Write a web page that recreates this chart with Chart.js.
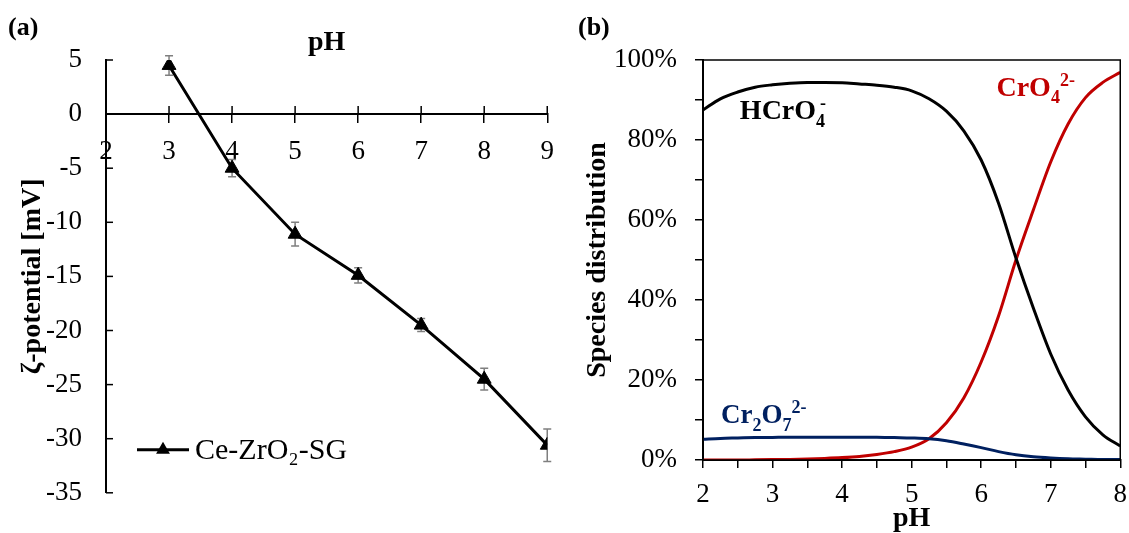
<!DOCTYPE html>
<html><head><meta charset="utf-8">
<script src="https://cdn.jsdelivr.net/npm/chart.js@4/dist/chart.umd.min.js"></script>
<style>
html,body{margin:0;padding:0;background:#fff;}
#wrap{position:relative;width:1129px;height:533px;overflow:hidden;}
#ca{position:absolute;left:0;top:0;}
#cb{position:absolute;left:565px;top:0;}
</style></head><body>
<div id="wrap">
<canvas id="ca" width="568" height="533"></canvas>
<canvas id="cb" width="573" height="533"></canvas>
</div>
<script>
// ---------- data: panel (a) ----------
const zetaPH  = [3, 4, 5, 6, 7, 8, 9];
const zetaMV  = [4.5, -5.0, -11.1, -14.9, -19.5, -24.5, -30.6];
const zetaErr = [0.9, 0.8, 1.1, 0.7, 0.6, 1.0, 1.5];
const zetaLabel = 'Ce-ZrO\u2082-SG';

// ---------- data: panel (b) ----------
const specPH = [2, 2.25, 2.5, 2.75, 3, 3.25, 3.5, 3.75, 4, 4.25, 4.5, 4.75, 5, 5.25, 5.5, 5.75, 6, 6.25, 6.5, 6.75, 7, 7.25, 7.5, 7.75, 8];
const hcro4  = [87.5, 90.3, 92.0, 93.2, 93.8, 94.2, 94.4, 94.4, 94.3, 94.0, 93.7, 93.2, 92.3, 90.3, 87.2, 82.3, 75.0, 64.2, 50.5, 38.0, 26.5, 17.5, 10.8, 6.3, 3.5];
const cro4   = [0, 0, 0, 0.05, 0.1, 0.15, 0.25, 0.4, 0.6, 0.9, 1.4, 2.1, 3.2, 5.3, 9.3, 15.5, 24.5, 36.0, 50.0, 62.5, 74.5, 84.0, 90.6, 94.4, 96.9];
const cr2o7  = [5.2, 5.4, 5.5, 5.6, 5.65, 5.7, 5.7, 5.7, 5.7, 5.7, 5.7, 5.6, 5.5, 5.3, 4.8, 4.0, 3.1, 2.1, 1.3, 0.8, 0.5, 0.3, 0.2, 0.1, 0.1];

const FONT = "'Liberation Serif','Times New Roman',serif";
Chart.defaults.font.family = FONT;
Chart.defaults.color = '#000';

const RED = '#C00000', NAVY = '#002060';

function pts(xs, ys){ return xs.map((x,i)=>({x:x, y:ys[i]})); }

function tri(ctx, x, y, r){
  ctx.beginPath();
  ctx.moveTo(x, y - r);
  ctx.lineTo(x + r*Math.sin(Math.PI/3), y + r*0.5);
  ctx.lineTo(x - r*Math.sin(Math.PI/3), y + r*0.5);
  ctx.closePath(); ctx.fill();
}

// ---------- panel (a) ----------
const zetaDecor = {
  id: 'zetaDecor',
  beforeDatasetsDraw(chart){
    const {ctx} = chart; const xs = chart.scales.x, ys = chart.scales.y;
    ctx.save(); ctx.strokeStyle = '#7f7f7f'; ctx.lineWidth = 1.5;
    zetaPH.forEach((p,i)=>{
      const x = xs.getPixelForValue(p);
      const y1 = ys.getPixelForValue(zetaMV[i] + zetaErr[i]);
      const y2 = ys.getPixelForValue(zetaMV[i] - zetaErr[i]);
      ctx.beginPath();
      ctx.moveTo(x, y1); ctx.lineTo(x, y2);
      ctx.moveTo(x-4, y1); ctx.lineTo(x+4, y1);
      ctx.moveTo(x-4, y2); ctx.lineTo(x+4, y2);
      ctx.stroke();
    });
    ctx.restore();
  },
  afterDraw(chart){
    const {ctx, chartArea: ca} = chart; const xs = chart.scales.x, ys = chart.scales.y;
    ctx.save();
    ctx.strokeStyle = '#000'; ctx.lineWidth = 1.5;
    // inside y ticks
    ys.ticks.forEach(t=>{ const y = ys.getPixelForValue(t.value);
      ctx.beginPath(); ctx.moveTo(ca.left, y); ctx.lineTo(ca.left + 7, y); ctx.stroke(); });
    // upper half of crossing x ticks
    const y0 = ys.getPixelForValue(0);
    xs.ticks.forEach(t=>{ const x = xs.getPixelForValue(t.value);
      ctx.beginPath(); ctx.moveTo(x, y0); ctx.lineTo(x, y0 - 8); ctx.stroke(); });
    // legend
    const ly = ca.bottom - 43, lx = ca.left + 31;
    ctx.lineWidth = 3; ctx.beginPath(); ctx.moveTo(lx, ly); ctx.lineTo(lx + 52, ly); ctx.stroke();
    ctx.fillStyle = '#000'; tri(ctx, lx + 26, ly, 8);
    ctx.font = '30px ' + FONT; ctx.textBaseline = 'middle'; ctx.textAlign = 'left';
    ctx.fillText(chart.data.datasets[0].label, lx + 58, ly + 1);
    // panel tag
    ctx.font = 'bold 26px ' + FONT; ctx.fillText('(a)', 8, 28);
    ctx.restore();
  }
};

new Chart(document.getElementById('ca'), {
  type: 'line',
  data: { datasets: [{
    label: zetaLabel, data: pts(zetaPH, zetaMV),
    borderColor: '#000', backgroundColor: '#000', borderWidth: 3,
    pointStyle: 'triangle', pointRadius: 8, pointBackgroundColor: '#000', pointBorderColor: '#000', pointBorderWidth: 1,
    tension: 0
  }]},
  options: {
    responsive: false, animation: false,
    layout: { padding: { left: 0, right: 0, top: 0, bottom: 37 } },
    plugins: { legend: { display: false }, tooltip: { enabled: false } },
    scales: {
      x: {
        type: 'linear', position: { y: 0 }, min: 2, max: 9,
        ticks: { stepSize: 1, padding: 14, font: { size: 27 }, color: '#000', maxRotation: 0, autoSkip: false },
        grid: { drawOnChartArea: false, drawTicks: true, tickLength: 8, color: '#000', lineWidth: 1.5 },
        border: { display: true, color: '#000', width: 2 }
      },
      xTop: {
        type: 'linear', position: 'top', min: 2, max: 9,
        ticks: { display: false }, grid: { display: false }, border: { display: false },
        title: { display: true, text: 'pH', color: '#000', font: { size: 28, weight: 'bold', lineHeight: 1 }, padding: { top: 29, bottom: 0 } },
        afterFit(s){ s.height = 60; }
      },
      y: {
        type: 'linear', min: -35, max: 5,
        ticks: { stepSize: 5, padding: 24, font: { size: 27 }, color: '#000' },
        grid: { drawOnChartArea: false, drawTicks: false },
        border: { display: true, color: '#000', width: 2 },
        title: { display: true, text: '\u03B6-potential [mV]', color: '#000', font: { size: 28, weight: 'bold', lineHeight: 1 }, padding: { top: 19, bottom: 0 } },
        afterFit(s){ s.width = 106; }
      }
    }
  },
  plugins: [zetaDecor]
});

// ---------- panel (b) ----------
const speciesTags = [
  { parts: [{t:'HCrO',k:'n'},{t:'4',k:'sub',stay:true},{t:'-',k:'sup',dx:4}], color: '#000', ph: 2.53, pct: 85.2, size: 28 },
  { parts: [{t:'CrO',k:'n'},{t:'4',k:'sub'},{t:'2-',k:'sup'}], color: RED, ph: 6.22, pct: 91.1, size: 28 },
  { parts: [{t:'Cr',k:'n'},{t:'2',k:'sub'},{t:'O',k:'n'},{t:'7',k:'sub'},{t:'2-',k:'sup'}], color: NAVY, ph: 2.26, pct: 9.2, size: 27 }
];

function richText(ctx, x, y, parts, color, size){
  ctx.save(); ctx.fillStyle = color; ctx.textBaseline = 'alphabetic'; ctx.textAlign = 'left';
  let cx = x;
  for (const p of parts){
    const fs = p.k === 'n' ? size : Math.round(size*0.66);
    ctx.font = 'bold ' + fs + 'px ' + FONT;
    const dy = p.k === 'sub' ? size*0.28 : (p.k === 'sup' ? -size*0.36 : 0);
    ctx.fillText(p.t, cx + (p.dx||0), y + dy);
    if (!p.stay) cx += ctx.measureText(p.t).width + (p.dx||0);
  }
  ctx.restore();
}

const specDecor = {
  id: 'specDecor',
  afterDraw(chart){
    const {ctx, chartArea: ca} = chart; const xs = chart.scales.x, ys = chart.scales.y;
    ctx.save();
    ctx.strokeStyle = '#000'; ctx.lineWidth = 1.5;
    ctx.strokeRect(ca.left, ca.top, ca.right - ca.left, ca.bottom - ca.top);
    speciesTags.forEach(s=>{
      richText(ctx, xs.getPixelForValue(s.ph), ys.getPixelForValue(s.pct), s.parts, s.color, s.size);
    });
    ctx.fillStyle = '#000'; ctx.font = 'bold 26px ' + FONT; ctx.textBaseline = 'middle'; ctx.textAlign = 'left';
    ctx.fillText('(b)', 13, 28);
    ctx.restore();
  }
};

function lineDS(label, ys, color){
  return { label: label, data: pts(specPH, ys), borderColor: color, backgroundColor: color,
    borderWidth: 3, pointRadius: 0, cubicInterpolationMode: 'monotone', fill: false };
}

new Chart(document.getElementById('cb'), {
  type: 'line',
  data: { datasets: [
    lineDS('Cr2O7', cr2o7, NAVY),
    lineDS('HCrO4', hcro4, '#000'),
    lineDS('CrO4', cro4, RED)
  ]},
  options: {
    responsive: false, animation: false,
    layout: { padding: { left: 0, right: 0, top: 60, bottom: 0 } },
    plugins: { legend: { display: false }, tooltip: { enabled: false } },
    scales: {
      x: {
        type: 'linear', min: 2, max: 8,
        ticks: { stepSize: 0.5, autoSkip: false, maxRotation: 0, padding: 11, font: { size: 27 }, color: '#000',
          callback: v => Number.isInteger(v) ? String(v) : '' },
        grid: { drawOnChartArea: false, tickLength: 8, color: '#000', lineWidth: 1.5 },
        border: { display: true, color: '#000', width: 2 },
        title: { display: true, text: 'pH', color: '#000', font: { size: 28, weight: 'bold', lineHeight: 1 }, padding: { top: 0, bottom: 0 } },
        afterFit(s){ s.height = 73; }
      },
      y: {
        type: 'linear', min: 0, max: 100,
        ticks: { stepSize: 10, autoSkip: false, padding: 18, font: { size: 27 }, color: '#000',
          callback: v => (v % 20 === 0) ? v + '%' : '' },
        grid: { drawOnChartArea: false, tickLength: 8, color: '#000', lineWidth: 1.5 },
        border: { display: true, color: '#000', width: 2 },
        title: { display: true, text: 'Species distribution', color: '#000', font: { size: 28, weight: 'bold', lineHeight: 1 }, padding: { top: 19, bottom: 0 } },
        afterFit(s){ s.width = 138; }
      }
    }
  },
  plugins: [specDecor]
});
</script>
</body></html>
